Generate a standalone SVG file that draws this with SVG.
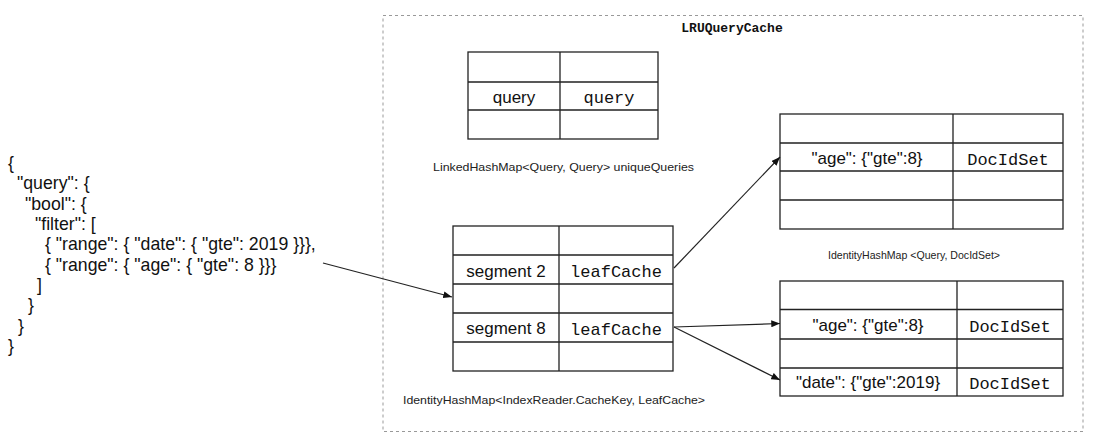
<svg xmlns="http://www.w3.org/2000/svg" width="1098" height="446" viewBox="0 0 1098 446">
<style>
.sans{font-family:"Liberation Sans",Arial,sans-serif;fill:#111}
.mono{font-family:"Liberation Mono","Courier New",monospace;fill:#111}
.cell{font-size:17px}
.lbl{font-family:"Liberation Sans",Arial,sans-serif;font-size:11.5px;fill:#222}
.json{font-family:"Liberation Sans",Arial,sans-serif;font-size:17.7px;fill:#111}
.tbl{fill:#fff;stroke:#222;stroke-width:1.3}
.grid{stroke:#222;stroke-width:1.3;fill:none}
.conn{stroke:#222;stroke-width:1.2;fill:none;marker-end:url(#ah)}
</style>
<defs>
<marker id="ah" viewBox="0 0 10 8" refX="10" refY="4" markerWidth="9" markerHeight="7" markerUnits="userSpaceOnUse" orient="auto">
<path d="M0,0 L10,4 L0,8 Z" fill="#111"/>
</marker>
</defs>
<rect width="1098" height="446" fill="#fff"/>

<g id="json-query">
<text class="json" x="8" y="169">{</text>
<text class="json" x="17" y="189.4">"query": {</text>
<text class="json" x="25" y="209.7">"bool": {</text>
<text class="json" x="35" y="230">"filter": [</text>
<text class="json" x="45" y="250.4">{ "range": { "date": { "gte": 2019 }}},</text>
<text class="json" x="45" y="270.7">{ "range": { "age": { "gte": 8 }}}</text>
<text class="json" x="37" y="291.1">]</text>
<text class="json" x="28" y="311.4">}</text>
<text class="json" x="18" y="331.8">}</text>
<text class="json" x="8" y="352.1">}</text>
</g>

<g id="lru-query-cache">
<rect x="383" y="15.5" width="700" height="416" fill="none" stroke="#999" stroke-width="1" stroke-dasharray="3 3"/>
<text class="mono" x="732" y="32" font-size="13" font-weight="bold" text-anchor="middle">LRUQueryCache</text>
</g>

<g id="unique-queries">
<rect class="tbl" x="468" y="52" width="190" height="87"/>
<path class="grid" d="M560,52V139M468,82H658M468,110H658"/>
<text class="sans cell" x="514" y="102.5" text-anchor="middle">query</text>
<text class="mono cell" x="609" y="103" text-anchor="middle">query</text>
<text class="lbl" x="433" y="171" textLength="261" lengthAdjust="spacingAndGlyphs">LinkedHashMap&lt;Query, Query&gt; uniqueQueries</text>
</g>

<g id="segment-cache">
<rect class="tbl" x="453" y="226" width="220" height="145"/>
<path class="grid" d="M559,226V371M453,255H673M453,284H673M453,313H673M453,342H673"/>
<text class="sans cell" x="506" y="276.5" text-anchor="middle">segment 2</text>
<text class="mono cell" x="616" y="277" text-anchor="middle">leafCache</text>
<text class="sans cell" x="506" y="334" text-anchor="middle">segment 8</text>
<text class="mono cell" x="616" y="334.5" text-anchor="middle">leafCache</text>
<text class="lbl" x="403" y="404" textLength="302" lengthAdjust="spacingAndGlyphs">IdentityHashMap&lt;IndexReader.CacheKey, LeafCache&gt;</text>
</g>

<g id="leaf-cache-seg2">
<rect class="tbl" x="780" y="114" width="283" height="115"/>
<path class="grid" d="M953,114V229M780,143H1063M780,171H1063M780,200H1063"/>
<text class="sans cell" x="867" y="164" text-anchor="middle">"age": {"gte":8}</text>
<text class="mono cell" x="1008" y="164.5" text-anchor="middle">DocIdSet</text>
<text class="lbl" x="828" y="259" textLength="172" lengthAdjust="spacingAndGlyphs">IdentityHashMap &lt;Query, DocIdSet&gt;</text>
</g>

<g id="leaf-cache-seg8">
<rect class="tbl" x="780" y="281" width="283" height="115"/>
<path class="grid" d="M957,281V396M780,309.5H1063M780,339H1063M780,368H1063"/>
<text class="sans cell" x="868" y="331" text-anchor="middle">"age": {"gte":8}</text>
<text class="mono cell" x="1010" y="331.5" text-anchor="middle">DocIdSet</text>
<text class="sans cell" x="868" y="388" text-anchor="middle">"date": {"gte":2019}</text>
<text class="mono cell" x="1010" y="389" text-anchor="middle">DocIdSet</text>
</g>

<g id="connectors">
<line class="conn" x1="323" y1="263" x2="452" y2="297"/>
<line class="conn" x1="674" y1="268" x2="780" y2="157"/>
<line class="conn" x1="674" y1="327" x2="780" y2="323.5"/>
<line class="conn" x1="674" y1="327" x2="780" y2="380"/>
</g>
</svg>
